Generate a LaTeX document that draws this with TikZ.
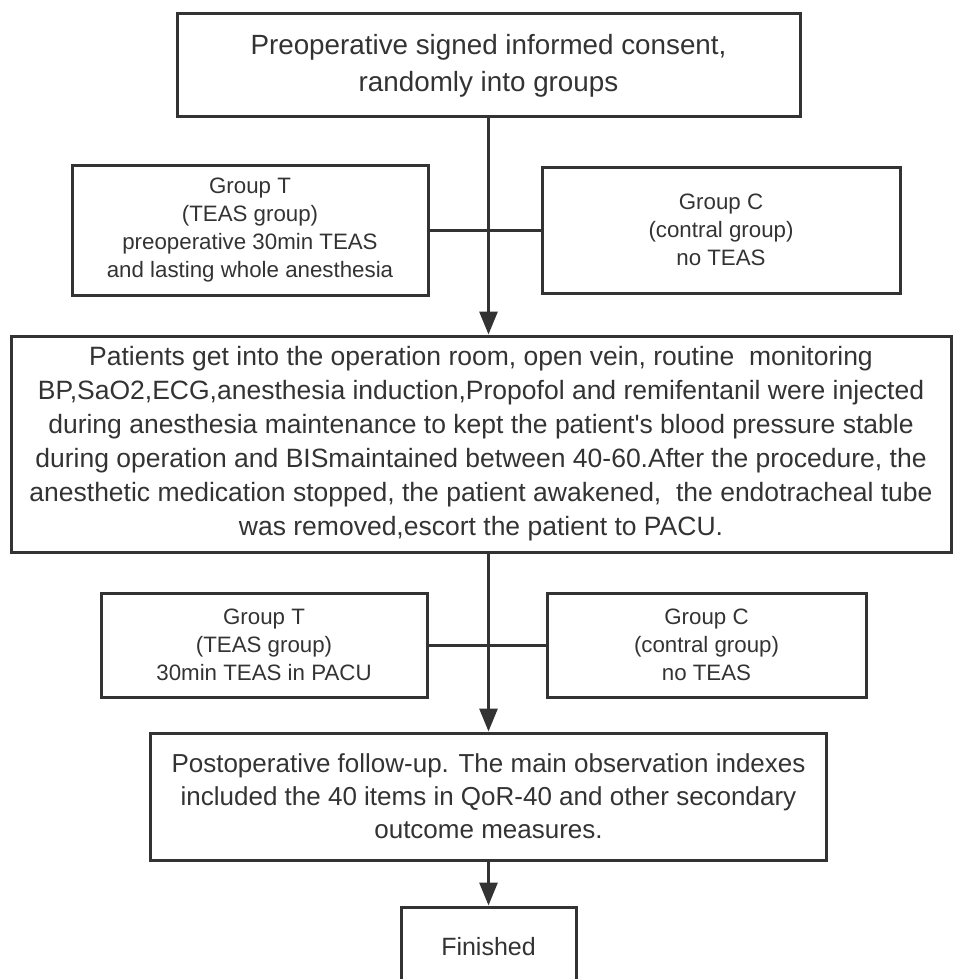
\documentclass[tikz,border=0pt]{standalone}
\usepackage{fontspec}
\setmainfont{Liberation Sans}
\usetikzlibrary{arrows.meta,positioning}
\definecolor{ink}{HTML}{333333}

\begin{document}
\begin{tikzpicture}[x=1pt,y=-1pt,
	box/.style={shape=rectangle,draw=ink,line width=3pt,inner sep=0pt,align=center,text=ink},
	big/.style={font=\fontsize{26.5}{34}\selectfont},
	small/.style={font=\fontsize{22.3}{28}\selectfont},
	flow/.style={draw=ink,line width=3pt,-{Triangle[length=23pt,width=18pt]}},
	link/.style={draw=ink,line width=3pt}]
	\useasboundingbox (0,0) rectangle (953,979);
	\path (488.5,65.5) node (consent) [box,font=\fontsize{27.8}{37}\selectfont,minimum width=623pt,minimum height=103pt] {Preoperative signed informed consent,\\randomly into groups}
		  (250,230) node (groupT) [box,small,minimum width=356pt,minimum height=130pt] {Group T\\(TEAS group)\\preoperative 30min TEAS\\and lasting whole anesthesia}
		  (721,230) node (groupC) [box,small,minimum width=358pt,minimum height=126pt] {Group C\\(contral group)\\no TEAS}
		  (481,444) node (operation) [box,big,minimum width=940pt,minimum height=216pt] {Patients get into the operation room, open vein, routine~ monitoring\\BP,SaO2,ECG,anesthesia induction,Propofol and remifentanil were injected\\during anesthesia maintenance to kept the patient\textquotesingle s blood pressure stable\\during operation and BISmaintained between 40-60.After the procedure, the\\anesthetic medication stopped, the patient awakened,~ the endotracheal tube\\was removed,escort the patient to PACU.}
		  (264,645) node (pacuT) [box,small,minimum width=326pt,minimum height=104pt] {Group T\\(TEAS group)\\30min TEAS in PACU}
		  (706.5,645) node (pacuC) [box,small,minimum width=319pt,minimum height=104pt] {Group C\\(contral group)\\no TEAS}
		  (488.5,796.5) node (followup) [box,font=\fontsize{26}{33}\selectfont,minimum width=676pt,minimum height=127pt] {Postoperative follow-up. The main observation indexes\\included the 40 items in QoR-40 and other secondary\\outcome measures.}
		  (488.5,947) node (finished) [box,font=\fontsize{25}{30}\selectfont,minimum width=175pt,minimum height=80pt] {Finished};
	\draw[flow] (consent.south) -- (consent.south |- operation.north);
	\draw[link] (groupT.east) -- (groupC.west);
	\draw[flow] (consent.south |- operation.south) -- (followup.north);
	\draw[link] (pacuT.east) -- (pacuC.west);
	\draw[flow] (followup.south) -- (finished.north);
\end{tikzpicture}
\end{document}
